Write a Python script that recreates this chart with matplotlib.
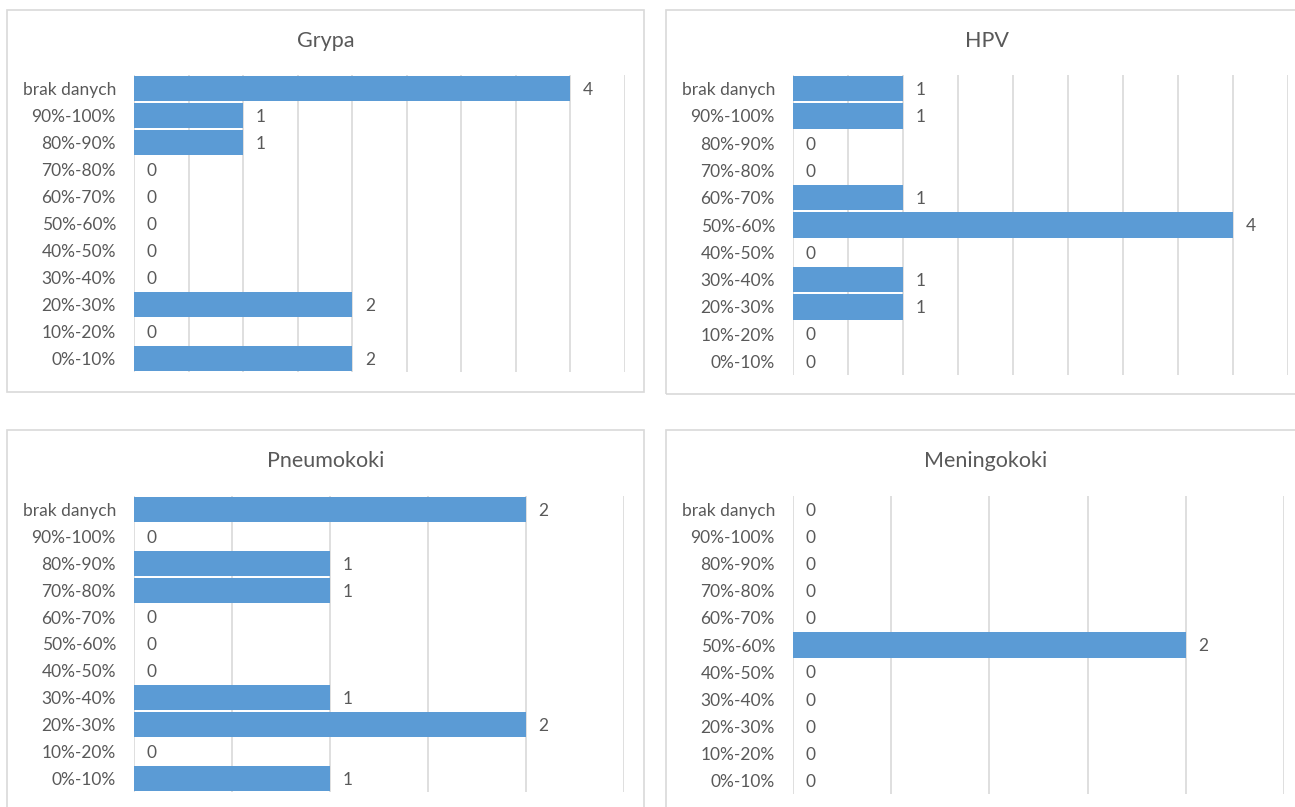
import matplotlib.pyplot as plt
from matplotlib.patches import Rectangle

W, H = 1295, 807

CATEGORIES = ["0%-10%", "10%-20%", "20%-30%", "30%-40%", "40%-50%", "50%-60%",
              "60%-70%", "70%-80%", "80%-90%", "90%-100%", "brak danych"]

# values listed bottom-to-top, same order as CATEGORIES
GRYPA = [2, 0, 2, 0, 0, 0, 0, 0, 1, 1, 4]
HPV = [0, 0, 1, 1, 0, 4, 1, 0, 0, 1, 1]
PNEUMOKOKI = [1, 0, 2, 1, 0, 0, 0, 1, 1, 0, 2]
MENINGOKOKI = [0, 0, 0, 0, 0, 2, 0, 0, 0, 0, 0]

BAR_COLOR = "#5b9bd5"
GRID_COLOR = "#d9d9d9"
TEXT_COLOR = "#595959"

plt.rcParams["font.family"] = ["Lato", "DejaVu Sans"]


def px_box(x0, y0, x1, y1):
    return [x0 / W, 1 - y1 / H, (x1 - x0) / W, (y1 - y0) / H]


def draw_panel(fig, title, values, xmax, axes_px, frame_px, title_xy):
    # frame around the panel, like the Excel chart area
    fx0, fy0, fx1, fy1 = frame_px
    fig.patches.append(Rectangle((fx0 / W, 1 - fy1 / H), (fx1 - fx0) / W, (fy1 - fy0) / H,
                                 transform=fig.transFigure, fill=False,
                                 edgecolor=GRID_COLOR, linewidth=1.2))
    fig.text(title_xy[0] / W, 1 - title_xy[1] / H, title, ha="center", va="center",
             fontsize=15.5, color=TEXT_COLOR)

    ax = fig.add_axes(px_box(*axes_px))
    positions = range(len(CATEGORIES))
    ax.barh(positions, values, height=0.93, color=BAR_COLOR, zorder=3)

    ax.set_xlim(0, xmax)
    ax.set_ylim(-0.5, len(CATEGORIES) - 0.5)
    ticks = [i * 0.5 for i in range(int(xmax / 0.5) + 1)]
    ax.set_xticks(ticks)
    ax.xaxis.grid(True, color=GRID_COLOR, linewidth=1.2, zorder=0)
    ax.tick_params(axis="x", length=0, labelbottom=False)

    ax.set_yticks(list(positions))
    ax.set_yticklabels(CATEGORIES, fontsize=12.5, color=TEXT_COLOR)
    ax.tick_params(axis="y", length=0, pad=13)

    for spine in ax.spines.values():
        spine.set_visible(False)

    for pos, val in zip(positions, values):
        ax.annotate(str(val), xy=(val, pos), xytext=(9, -1), textcoords="offset points",
                    ha="left", va="center", fontsize=12.5, color=TEXT_COLOR)
    return ax


def main():
    fig = plt.figure(figsize=(W / 100, H / 100), dpi=100)

    draw_panel(fig, "Grypa", GRYPA, 4.5, (134, 75, 625, 372), (7, 10, 644, 392), (326, 41))
    draw_panel(fig, "HPV", HPV, 4.5, (793, 75, 1288, 375), (666, 10, 1320, 394), (987, 41))
    draw_panel(fig, "Pneumokoki", PNEUMOKOKI, 2.5, (134, 496, 624, 792),
               (7, 430, 644, 830), (326, 461))
    draw_panel(fig, "Meningokoki", MENINGOKOKI, 2.5, (793, 496, 1284, 794),
               (666, 430, 1320, 830), (986, 461))

    fig.savefig("out.png", dpi=100)


if __name__ == "__main__":
    main()
